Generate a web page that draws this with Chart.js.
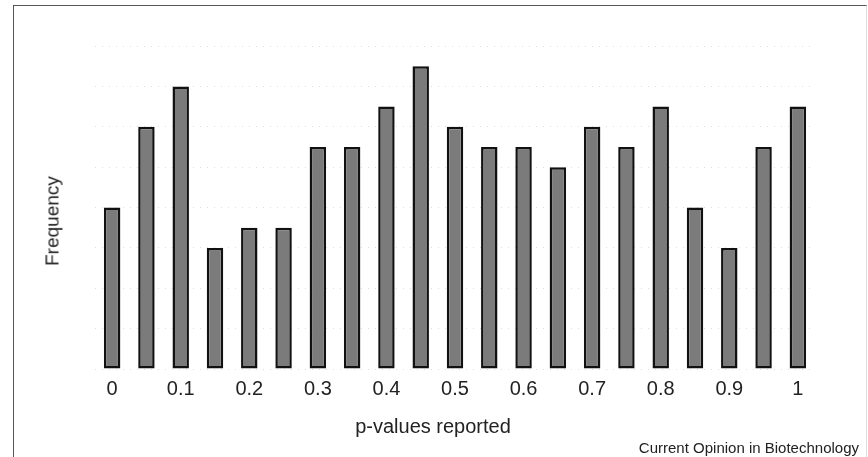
<!DOCTYPE html>
<html>
<head>
<meta charset="utf-8">
<script src="https://cdn.jsdelivr.net/npm/chart.js@4.4.1/dist/chart.umd.min.js"></script>
<style>
  html, body { margin: 0; padding: 0; background: #fff; }
  #wrap { position: relative; width: 868px; height: 457px; overflow: hidden; font-family: "Liberation Sans", Arial, sans-serif; color: #222; }
  #frame {
    position: absolute; left: 13px; top: 5px; width: 852px; height: 460px;
    border-top: 1.5px solid #555; border-left: 1.5px solid #555; border-right: 1px solid #ddd;
  }
  .lbl { position: absolute; white-space: nowrap; line-height: 1; }
  #xTitle { left: 433px; top: 426px; font-size: 20px; transform: translate(-50%, -50%); }
  #yTitle { left: 52px; top: 221px; font-size: 19px; transform: translate(-50%, -50%) rotate(-90deg); }
  #source { right: 9px; top: 447px; font-size: 15px; transform: translateY(-50%); }
  canvas { position: absolute; left: 0; top: 0; }
</style>
</head>
<body>
<div id="wrap">
  <div id="frame"></div>
  <canvas id="chart" width="868" height="457"></canvas>
  <div class="lbl" id="yTitle">Frequency</div>
  <div class="lbl" id="xTitle">p-values reported</div>
  <div class="lbl" id="source">Current Opinion in Biotechnology</div>
</div>
<script>
// p-value bins, 0 to 1 in steps of 0.05
const pValues = ["0", "0.05", "0.1", "0.15", "0.2", "0.25", "0.3", "0.35", "0.4", "0.45", "0.5",
  "0.55", "0.6", "0.65", "0.7", "0.75", "0.8", "0.85", "0.9", "0.95", "1"];
const frequency = [8, 12, 14, 6, 7, 7, 11, 11, 13, 15, 12, 11, 11, 10, 12, 11, 13, 8, 6, 11, 13];
// only every other bin gets a tick label
const tickLabels = ["0", "", "0.1", "", "0.2", "", "0.3", "", "0.4", "", "0.5",
  "", "0.6", "", "0.7", "", "0.8", "", "0.9", "", "1"];

const font = "'Liberation Sans', Arial, sans-serif";

new Chart(document.getElementById("chart"), {
  type: "bar",
  data: {
    labels: pValues,
    datasets: [{
      data: frequency,
      backgroundColor: "#7b7b7b",
      borderColor: "#111",
      borderWidth: 2.5,
      borderSkipped: false,
      categoryPercentage: 1,
      barPercentage: 0.48
    }]
  },
  options: {
    responsive: false,
    animation: false,
    layout: { padding: { left: 95, right: 53, top: 46, bottom: 0 } },
    plugins: { legend: { display: false }, tooltip: { enabled: false } },
    scales: {
      x: {
        grid: { display: false },
        border: { display: false },
        ticks: {
          autoSkip: false,
          maxRotation: 0,
          padding: 0,
          color: "#222",
          font: { family: font, size: 20 },
          callback: (v, i) => tickLabels[i]
        },
        afterFit: (axis) => { axis.height = 88; }
      },
      y: {
        min: 0,
        max: 16,
        border: { display: false, dash: [1, 6] },
        // faint dotted guides, as in the scanned original
        grid: { color: "rgba(0,0,0,0.13)", drawTicks: false },
        ticks: { display: false, stepSize: 2 },
        afterFit: (axis) => { axis.width = 0; }
      }
    }
  }
});
</script>
</body>
</html>
